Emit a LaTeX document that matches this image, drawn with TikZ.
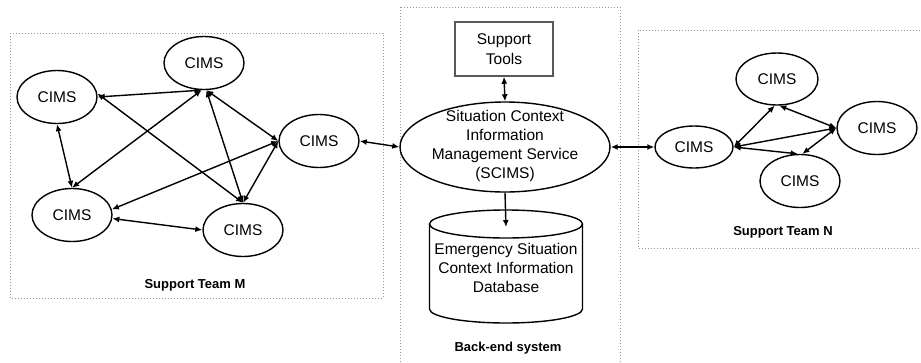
\documentclass[tikz,border=0pt]{standalone}
\usepackage{fontspec}
\setmainfont{Liberation Sans}
\usetikzlibrary{shapes.geometric,arrows.meta}
\begin{document}
\begin{tikzpicture}[x=1pt,y=-1pt,
  txt/.style={font=\fontsize{15.5}{19}\selectfont},
  cims/.style={draw,ellipse,line width=1.4pt,minimum width=80pt,minimum height=53pt,inner sep=0pt,txt},
  link/.style={line width=1.4pt,{Latex[length=7pt,width=6pt]}-{Latex[length=7pt,width=6pt]}},
  onearrow/.style={line width=1.4pt,-{Latex[length=7pt,width=6pt]}},
  frame/.style={draw=gray!80,line width=0.8pt,dash pattern=on 0.8pt off 2.2pt},
  lbl/.style={font=\fontsize{13}{15}\selectfont\bfseries}]
\useasboundingbox (0,0) rectangle (921,362);

% frames
\draw[frame] (10,33) rectangle (383,298);
\draw[frame] (400,7) rectangle (620,370);
\draw[frame] (638,30) rectangle (930,248);

% left team
\node[cims] (lt) at (57,97) {CIMS};
\node[cims] (top) at (204,63) {CIMS};
\node[cims] (rt) at (319,141) {CIMS};
\node[cims] (lb) at (72,215) {CIMS};
\node[cims] (bt) at (243,230) {CIMS};
\node[lbl] (teamM) at (195,285) {Support Team M};

\draw[link] (lt.east) -- (top.265);
\draw[link] (lt.5) -- (bt.north);
\draw[link] (lt.south) -- (lb.north);
\draw[link] (top.265) -- (lb.north);
\draw[link] (top.275) -- (bt.north);
\draw[link] (top.275) -- (rt.west);
\draw[link] (rt.west) -- (lb.8);
\draw[link] (rt.west) -- (bt.north);
\draw[link] (lb.-5) -- (bt.west);

% back-end
\node[draw=gray!70!black,line width=1.5pt,minimum width=98pt,minimum height=54pt,align=center,inner sep=0pt,font=\fontsize{15.5}{20}\selectfont] (tools) at (504,49) {Support\\Tools};
\node[draw,ellipse,line width=1.4pt,minimum width=210pt,minimum height=90pt,inner sep=0pt] (scims) at (505,147) {};
\node[align=center,txt] (scimstext) at (505,146) {Situation Context\\Information\\Management Service\\(SCIMS)};
\draw[line width=1.4pt] (429.5,224) -- (429.5,309) arc[start angle=180,end angle=360,x radius=76.5pt,y radius=14pt] -- (582.5,224);
\draw[line width=1.4pt] (506,224) ellipse [x radius=76.5pt,y radius=14pt];
\coordinate (dbtop) at (506,227);
\node[align=center,txt] (db) at (506,268) {Emergency Situation\\Context Information\\Database};
\node[lbl] (backend) at (508,348) {Back-end system};

\draw[link] (tools.south) -- (scims.north);
\draw[onearrow] (scims.south) -- (dbtop);
\draw[link] (rt.east) -- (scims.west);

% right team
\node[cims,minimum width=78pt,minimum height=42pt] (rl) at (694,147) {CIMS};
\node[cims,minimum width=82pt,minimum height=52pt] (rtop) at (777,79) {CIMS};
\node[cims] (rr) at (877,128) {CIMS};
\node[cims] (rb) at (800,181) {CIMS};
\node[lbl] (teamN) at (783,232) {Support Team N};

\draw[link] (scims.east) -- (rl.west);
\draw[link] (rl.east) -- (rtop.265);
\draw[link] (rtop.275) -- (rr.west);
\draw[link] (rl.east) -- (rr.west);
\draw[link] (rl.east) -- (rb.95);
\draw[link] (rr.west) -- (rb.85);
\end{tikzpicture}
\end{document}
